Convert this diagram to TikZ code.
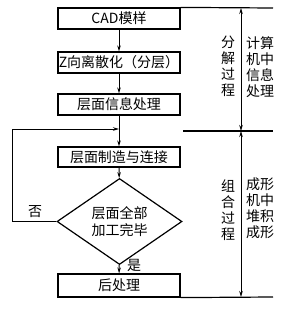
\documentclass[tikz,border=0pt]{standalone}
\usepackage{fontspec}
\newfontfamily\cjk{Noto Sans CJK SC}
\usetikzlibrary{arrows.meta,shapes.geometric}
\begin{document}
\begin{tikzpicture}[x=1pt,y=-1pt,
  font=\cjk\fontsize{14}{16}\selectfont,
  stepbox/.style={draw,line width=1.2pt,minimum width=122pt,inner sep=0pt},
  decide/.style={draw,diamond,line width=1.2pt,minimum width=125pt,minimum height=65pt,inner sep=0pt,align=center,font=\cjk\fontsize{14}{17}\selectfont},
  arr/.style={line width=0.9pt,-{Stealth[length=6pt,width=3.5pt]}},
  dbl/.style={line width=0.9pt,{Stealth[length=6pt,width=3.5pt]}-{Stealth[length=6pt,width=3.5pt]}},
  rule/.style={line width=1.2pt},
  vtext/.style={align=center,inner sep=0pt}]
\useasboundingbox (0,0) rectangle (291,319);
\node[stepbox,minimum height=21pt] (b1) at (119,18.5) {CAD模样};
\node[stepbox,minimum height=21pt] (b2) at (119,62.5) {Z向离散化（分层）};
\node[stepbox,minimum height=21pt] (b3) at (119,104.5) {层面信息处理};
\node[stepbox,minimum height=20pt] (b4) at (119,157) {层面制造与连接};
\node[decide] (d) at (119.5,221.5) {层面全部\\加工完毕};
\node[stepbox,minimum height=23pt] (b5) at (119,285.5) {后处理};
\coordinate (m) at (119,129);
\coordinate (fb) at (12,221.5);
\draw[arr] (b1) -- (b2);
\draw[arr] (b2) -- (b3);
\draw[arr] (b3) -- (b4);
\draw[arr] (b4) -- (d);
\draw[arr] (d) -- (b5);
\draw[arr] (d.west) -- (fb) |- (m);
\node (no) at (35,212) {否};
\node (yes) at (134,265) {是};
\coordinate (t1) at (273,8);
\coordinate (t2) at (183,131);
\coordinate (t3) at (273,131);
\coordinate (t4) at (273,297);
\coordinate (a1) at (241,8);
\coordinate (a2) at (241,131);
\coordinate (a3) at (241,297);
\draw[rule] (b1.north east) -- (t1);
\draw[rule] (t2) -- (t3);
\draw[rule] (b5.south east) -- (t4);
\draw[dbl] (a1) -- (a2);
\draw[dbl] (a2) -- (a3);
\node[vtext] (fj) at (228,66.5) {分\\解\\过\\程};
\node[vtext] (js) at (260,67) {计算\\机中\\信息\\处理};
\node[vtext] (zh) at (228,210) {组\\合\\过\\程};
\node[vtext] (cx) at (260,208) {成形\\机中\\堆积\\成形};
\end{tikzpicture}
\end{document}
